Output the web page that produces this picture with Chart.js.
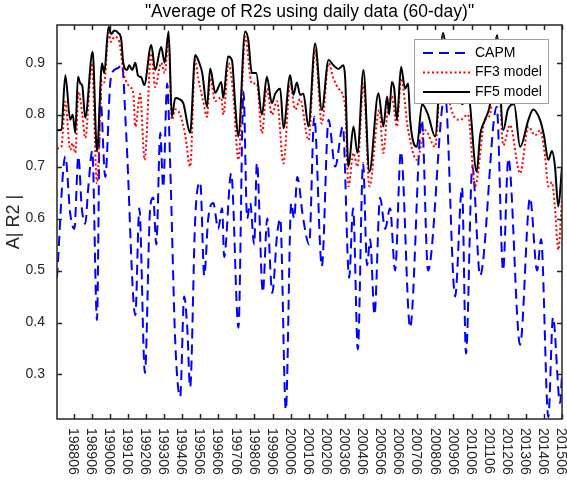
<!DOCTYPE html>
<html>
<head>
<meta charset="utf-8">
<script src="https://cdn.jsdelivr.net/npm/chart.js@4.4.1/dist/chart.umd.min.js"></script>
<style>
  body { margin: 0; background: #fff; }
  canvas { display: block; }
</style>
</head>
<body>
<canvas id="r2Chart" width="567" height="481"></canvas>
<script>
// tick labels (yyyymm, June of each year)
const xTickLabels = ['198806', '198906', '199006', '199106', '199206', '199306', '199406', '199506',
    '199606', '199706', '199806', '199906', '200006', '200106', '200206', '200306', '200406',
    '200506', '200606', '200706', '200806', '200906', '201006', '201106', '201206', '201306',
    '201406', '201506'];
const yTicks = [0.3, 0.4, 0.5, 0.6, 0.7, 0.8, 0.9];

// CAPM
const capmDates = [1987.50, 1987.96, 1988.23, 1988.46, 1988.68, 1988.87, 1989.06, 1989.23, 1989.45, 1989.71,
    1989.89, 1990.17, 1990.45, 1990.67, 1990.89, 1991.09, 1991.33, 1991.83, 1992.05, 1992.36,
    1992.65, 1992.82, 1992.99, 1993.21, 1993.37, 1993.59, 1993.76, 1994.04, 1994.31, 1994.53,
    1994.70, 1994.86, 1995.14, 1995.42, 1995.64, 1995.86, 1996.14, 1996.41, 1996.63, 1996.74,
    1997.13, 1997.53, 1997.81, 1998.01, 1998.18, 1998.40, 1998.55, 1998.88, 1999.12, 1999.40,
    1999.67, 1999.84, 2000.15, 2000.45, 2000.61, 2000.78, 2001.11, 2001.44, 2001.72, 2002.14,
    2002.51, 2002.88, 2003.30, 2003.65, 2003.87, 2004.13, 2004.42, 2004.64, 2004.81, 2005.05,
    2005.36, 2005.64, 2005.91, 2006.19, 2006.51, 2007.02, 2007.67, 2008.01, 2008.95, 2009.51,
    2009.89, 2010.11, 2010.46, 2010.89, 2011.81, 2012.16, 2012.45, 2013.10, 2013.65, 2014.04,
    2014.26, 2014.66, 2014.92, 2015.31, 2015.42];
const capmValues = [0.486, 0.72, 0.61, 0.58, 0.72, 0.62, 0.59, 0.66, 0.73, 0.405,
    0.838, 0.68, 0.863, 0.886, 0.89, 0.896, 0.76, 0.414, 0.62, 0.303,
    0.62, 0.64, 0.55, 0.765, 0.66, 0.86, 0.70, 0.36, 0.257, 0.45,
    0.39, 0.275, 0.60, 0.67, 0.49, 0.60, 0.63, 0.58, 0.62, 0.526,
    0.687, 0.39, 0.844, 0.60, 0.63, 0.55, 0.707, 0.458, 0.60, 0.457,
    0.57, 0.60, 0.232, 0.63, 0.60, 0.68, 0.60, 0.55, 0.796, 0.508,
    0.79, 0.70, 0.777, 0.486, 0.62, 0.348, 0.707, 0.51, 0.56, 0.415,
    0.64, 0.58, 0.62, 0.50, 0.729, 0.39, 0.79, 0.50, 0.84, 0.45,
    0.66, 0.34, 0.70, 0.49, 0.815, 0.50, 0.716, 0.357, 0.64, 0.50,
    0.56, 0.218, 0.41, 0.245, 0.30];

// FF3 model
const ff3Dates = [1987.50, 1987.74, 1987.96, 1988.23, 1988.37, 1988.51, 1988.69, 1988.90, 1989.06, 1989.43,
    1989.71, 1989.99, 1990.11, 1990.35, 1990.50, 1990.67, 1990.94, 1991.18, 1991.38, 1991.55,
    1991.72, 1991.83, 1992.10, 1992.34, 1992.71, 1992.93, 1993.26, 1993.45, 1993.67, 1993.85,
    1994.04, 1994.31, 1994.59, 1994.86, 1995.14, 1995.31, 1995.58, 1995.79, 1995.97, 1996.25,
    1996.58, 1996.70, 1996.98, 1997.24, 1997.53, 1997.90, 1998.27, 1998.55, 1998.83, 1999.10,
    1999.38, 1999.66, 2000.02, 2000.39, 2000.67, 2000.94, 2001.40, 2001.77, 2002.14, 2002.51,
    2002.78, 2003.06, 2003.43, 2003.61, 2003.89, 2004.11, 2004.44, 2004.77, 2005.32, 2005.54,
    2005.75, 2006.01, 2006.29, 2006.52, 2006.91, 2007.39, 2007.85, 2008.40, 2008.84, 2009.23,
    2009.78, 2010.22, 2010.61, 2011.16, 2011.44, 2011.83, 2012.17, 2012.54, 2013.10, 2013.56,
    2013.93, 2014.20, 2014.48, 2014.66, 2014.86, 2015.03, 2015.21, 2015.42];
const ff3Values = [0.735, 0.738, 0.825, 0.732, 0.745, 0.726, 0.844, 0.80, 0.755, 0.899,
    0.668, 0.867, 0.862, 0.957, 0.94, 0.95, 0.94, 0.88, 0.86, 0.853,
    0.84, 0.777, 0.84, 0.713, 0.918, 0.853, 0.90, 0.88, 0.944, 0.79,
    0.81, 0.80, 0.76, 0.70, 0.905, 0.87, 0.826, 0.796, 0.87, 0.826,
    0.833, 0.80, 0.899, 0.84, 0.713, 0.95, 0.86, 0.86, 0.764, 0.85,
    0.80, 0.826, 0.706, 0.86, 0.81, 0.83, 0.751, 0.924, 0.783, 0.899,
    0.87, 0.85, 0.815, 0.662, 0.726, 0.70, 0.86, 0.662, 0.809, 0.726,
    0.80, 0.835, 0.777, 0.87, 0.77, 0.713, 0.77, 0.738, 0.95, 0.82,
    0.79, 0.80, 0.662, 0.79, 0.80, 0.94, 0.741, 0.78, 0.687, 0.777,
    0.76, 0.77, 0.72, 0.662, 0.67, 0.62, 0.54, 0.64];

// FF5 model
const ff5Dates = [1987.50, 1987.74, 1987.96, 1988.23, 1988.37, 1988.51, 1988.66, 1988.79, 1988.90, 1989.06,
    1989.47, 1989.71, 1989.99, 1990.11, 1990.35, 1990.50, 1990.67, 1990.89, 1991.05, 1991.16,
    1991.37, 1991.49, 1991.66, 1991.83, 1991.98, 1992.16, 1992.32, 1992.71, 1992.93, 1993.26,
    1993.45, 1993.67, 1993.85, 1994.04, 1994.26, 1994.48, 1994.86, 1995.14, 1995.36, 1995.53,
    1995.79, 1995.97, 1996.25, 1996.58, 1996.69, 1996.96, 1997.17, 1997.35, 1997.52, 1997.90,
    1998.07, 1998.27, 1998.51, 1998.83, 1999.10, 1999.38, 1999.56, 1999.84, 2000.02, 2000.39,
    2000.57, 2000.76, 2000.94, 2001.12, 2001.40, 2001.77, 2002.14, 2002.51, 2002.78, 2003.06,
    2003.33, 2003.43, 2003.61, 2003.89, 2004.11, 2004.44, 2004.77, 2005.27, 2005.54, 2005.75,
    2005.86, 2006.01, 2006.14, 2006.29, 2006.52, 2006.74, 2006.91, 2007.02, 2007.39, 2007.68,
    2008.01, 2008.40, 2008.84, 2009.23, 2009.56, 2009.89, 2010.22, 2010.70, 2010.89, 2011.16,
    2011.44, 2011.83, 2012.17, 2012.43, 2012.77, 2013.10, 2013.56, 2013.82, 2014.20, 2014.42,
    2014.66, 2014.86, 2015.03, 2015.21, 2015.42];
const ff5Values = [0.77, 0.771, 0.876, 0.79, 0.80, 0.765, 0.873, 0.86, 0.855, 0.794,
    0.921, 0.729, 0.899, 0.88, 0.969, 0.955, 0.962, 0.957, 0.945, 0.90,
    0.886, 0.895, 0.886, 0.90, 0.875, 0.872, 0.857, 0.934, 0.886, 0.93,
    0.90, 0.96, 0.796, 0.832, 0.83, 0.822, 0.765, 0.915, 0.90, 0.88,
    0.815, 0.889, 0.842, 0.863, 0.832, 0.912, 0.905, 0.82, 0.758, 0.96,
    0.945, 0.88, 0.88, 0.80, 0.873, 0.822, 0.84, 0.85, 0.774, 0.876,
    0.838, 0.862, 0.838, 0.84, 0.777, 0.937, 0.809, 0.905, 0.895, 0.888,
    0.895, 0.87, 0.70, 0.777, 0.726, 0.886, 0.69, 0.841, 0.777, 0.835,
    0.80, 0.863, 0.85, 0.79, 0.892, 0.85, 0.86, 0.79, 0.738, 0.82,
    0.80, 0.758, 0.957, 0.85, 0.87, 0.82, 0.84, 0.69, 0.76, 0.79,
    0.82, 0.953, 0.77, 0.81, 0.82, 0.738, 0.79, 0.81, 0.79, 0.76,
    0.713, 0.73, 0.70, 0.623, 0.70];

const textColor = '#262626';
const font = 'Arial, "Liberation Sans", Helvetica, sans-serif';

function toPoints(dates, values) {
    return dates.map((d, i) => ({ x: d, y: values[i] }));
}
function tickValue(label) {
    return parseInt(label.slice(0, 4)) + (parseInt(label.slice(4)) - 1) / 12;
}

// box, inward ticks, tick labels, title and legend drawn MATLAB-style
const matlabAxes = {
    id: 'matlabAxes',
    afterDatasetsDraw(chart) {
        const { ctx, chartArea: a, scales: { x, y } } = chart;
        ctx.save();
        ctx.strokeStyle = textColor;
        ctx.lineWidth = 1.5;
        ctx.strokeRect(a.left, a.top, a.right - a.left, a.bottom - a.top);

        ctx.beginPath();
        xTickLabels.forEach(l => {
            const px = Math.round(x.getPixelForValue(tickValue(l))) + 0.5;
            ctx.moveTo(px, a.bottom); ctx.lineTo(px, a.bottom - 5);
            ctx.moveTo(px, a.top); ctx.lineTo(px, a.top + 5);
        });
        yTicks.forEach(v => {
            const py = Math.round(y.getPixelForValue(v)) + 0.5;
            ctx.moveTo(a.left, py); ctx.lineTo(a.left + 5, py);
            ctx.moveTo(a.right, py); ctx.lineTo(a.right - 5, py);
        });
        ctx.stroke();

        ctx.fillStyle = textColor;
        ctx.font = '14px ' + font;
        ctx.textAlign = 'right';
        ctx.textBaseline = 'middle';
        yTicks.forEach(v => ctx.fillText(v.toFixed(1), a.left - 12, y.getPixelForValue(v)));

        ctx.font = '14px ' + font;
        ctx.textAlign = 'left';
        xTickLabels.forEach(l => {
            ctx.save();
            ctx.translate(x.getPixelForValue(tickValue(l)) - 1, a.bottom + 9);
            ctx.rotate(Math.PI / 2);
            ctx.fillText(l, 0, 0);
            ctx.restore();
        });

        // axis title
        ctx.save();
        ctx.font = '18px ' + font;
        ctx.textAlign = 'center';
        ctx.translate(14, (a.top + a.bottom) / 2);
        ctx.rotate(-Math.PI / 2);
        ctx.fillText('A| R2 |', 0, 0);
        ctx.restore();

        // title
        ctx.font = '17.5px ' + font;
        ctx.textAlign = 'center';
        ctx.fillStyle = '#000';
        ctx.fillText('"Average of R2s using daily data (60-day)"', (a.left + a.right) / 2, 12);

        // legend
        const bx = a.right - 148, by = a.top + 14, bw = 134, bh = 64;
        ctx.fillStyle = '#fff';
        ctx.fillRect(bx, by, bw, bh);
        ctx.strokeStyle = '#a0a0a0';
        ctx.lineWidth = 1;
        ctx.strokeRect(bx + 0.5, by + 0.5, bw, bh);
        ctx.font = '14px ' + font;
        ctx.textAlign = 'left';
        chart.data.datasets.forEach((ds, i) => {
            const ly = by + 14 + i * 19.5;
            ctx.strokeStyle = ds.borderColor;
            ctx.lineWidth = ds.borderWidth;
            ctx.setLineDash(ds.borderDash || []);
            ctx.beginPath();
            ctx.moveTo(bx + 9, ly); ctx.lineTo(bx + 56, ly);
            ctx.stroke();
            ctx.setLineDash([]);
            ctx.fillStyle = '#000';
            ctx.fillText(ds.label, bx + 61, ly);
        });
        ctx.restore();
    }
};

const ctx = document.getElementById('r2Chart').getContext('2d');
new Chart(ctx, {
    type: 'line',
    data: {
        datasets: [{
            label: 'CAPM',
            data: toPoints(capmDates, capmValues),
            borderColor: '#0000ff',
            borderWidth: 2,
            borderDash: [10, 6],
            order: 3
        }, {
            label: 'FF3 model',
            data: toPoints(ff3Dates, ff3Values),
            borderColor: '#ff0000',
            borderWidth: 2,
            borderDash: [2, 2.5],
            order: 2
        }, {
            label: 'FF5 model',
            data: toPoints(ff5Dates, ff5Values),
            borderColor: '#000000',
            borderWidth: 2,
            order: 1
        }]
    },
    options: {
        responsive: false,
        animation: false,
        devicePixelRatio: 1,
        layout: { padding: { top: 25, right: 5, left: 0, bottom: 0 } },
        elements: {
            point: { radius: 0 },
            line: { cubicInterpolationMode: 'monotone', fill: false }
        },
        scales: {
            x: {
                type: 'linear',
                min: 1987.5,
                max: 2015 + 5 / 12,
                grid: { display: false },
                border: { display: false },
                ticks: { display: false },
                afterFit: scale => { scale.height = 62; }
            },
            y: {
                min: 0.2143,
                max: 0.9725,
                grid: { display: false },
                border: { display: false },
                ticks: { display: false },
                afterFit: scale => { scale.width = 57; }
            }
        },
        plugins: {
            legend: { display: false },
            title: { display: false },
            tooltip: { enabled: false }
        }
    },
    plugins: [matlabAxes]
});
</script>
</body>
</html>
